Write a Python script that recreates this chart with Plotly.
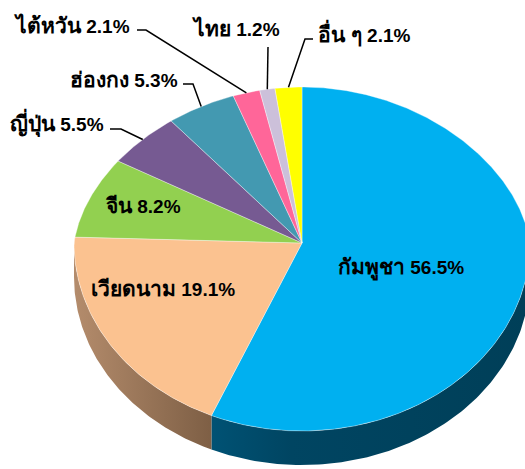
import numpy as np
import plotly.graph_objects as go

# ---------------- data ----------------
countries = ["กัมพูชา", "เวียดนาม", "จีน", "ญี่ปุ่น", "ฮ่องกง", "ไต้หวัน", "ไทย", "อื่น ๆ"]
shares = [56.5, 19.1, 8.2, 5.5, 5.3, 2.1, 1.2, 2.1]

# ---------------- style ----------------
top_colors = ["#00B0F0", "#FBC290", "#92D050", "#765A92", "#4399B1", "#FF6699", "#CCC0DA", "#FFFF00"]
wall_scales = {
    0: [[0, "#005274"], [0.25, "#004562"], [1, "#003F58"]],
    1: [[0, "#B48C6C"], [1, "#7E5F45"]],
}
# label placement: (x, y, xanchor)
label_pos = [
    (401, 268, "center"),
    (163, 288, "center"),
    (143, 205, "center"),
    (106, 123, "right"),
    (180, 79, "right"),
    (132, 25, "right"),
    (236, 28, "center"),
    (316, 33, "left"),
]
# leader lines: index -> (start point, elbow point)
leaders = {
    3: ((110, 129), (121, 129)),
    4: ((183, 84), (193, 84)),
    5: ((137, 30), (146, 30)),
    6: ((268, 47), (268, 47)),
    7: ((313, 39), (305, 39)),
}

W, H = 525, 469
CX, CY, RX, RY_TOP, RY_BOT, DEPTH, K = 302, 243, 228, 156, 188, 34, 0.1


def rim(theta_deg):
    t = np.radians(np.asarray(theta_deg, dtype=float))
    c, s = np.cos(t), np.sin(t)
    ry = np.where(c > 0, RY_TOP, RY_BOT)
    fx = 1 - K * np.clip(c, 0, None)
    return CX + RX * s * fx, CY - ry * c


vals = np.array(shares, dtype=float)
ends = np.cumsum(vals) / vals.sum() * 360.0
starts = np.concatenate([[0.0], ends[:-1]])

fig = go.Figure()

# side walls (visible front part: 90..270 deg)
for i, (a, b) in enumerate(zip(starts, ends)):
    lo, hi = max(a, 90.0), min(b, 270.0)
    if hi <= lo:
        continue
    th = np.linspace(lo, hi, 120)
    x, y = rim(th)
    px = np.concatenate([x, x[::-1], [x[0]]])
    py = np.concatenate([y, (y + DEPTH)[::-1], [y[0]]])
    fig.add_trace(go.Scatter(
        x=px, y=py, mode="lines", fill="toself",
        fillgradient=dict(type="horizontal", colorscale=wall_scales.get(i, [[0, top_colors[i]], [1, top_colors[i]]])),
        line=dict(width=0), hoverinfo="skip", showlegend=False))

# top surfaces
for i, (a, b) in enumerate(zip(starts, ends)):
    th = np.linspace(a, b, max(int((b - a) * 2), 8))
    x, y = rim(th)
    px = np.concatenate([[CX], x, [CX]])
    py = np.concatenate([[CY], y, [CY]])
    fig.add_trace(go.Scatter(
        x=px, y=py, mode="lines", fill="toself", fillcolor=top_colors[i],
        line=dict(width=0.6, color="rgba(255,255,255,0.6)"),
        name=countries[i], hoverinfo="skip", showlegend=False))

# leader lines
for i, (p0, p1) in leaders.items():
    mid = (starts[i] + ends[i]) / 2
    ex, ey = rim(mid)
    fig.add_trace(go.Scatter(
        x=[p0[0], p1[0], float(ex)], y=[p0[1], p1[1], float(ey)],
        mode="lines", line=dict(color="black", width=1.5),
        hoverinfo="skip", showlegend=False))

# labels
for i, (c, v) in enumerate(zip(countries, shares)):
    x, y, xa = label_pos[i]
    fig.add_annotation(
        x=x, y=y, xref="x", yref="y", xanchor=xa, yanchor="middle",
        text=f"<b><span style='font-size:21px'>{c}</span> {v}%</b>", showarrow=False,
        font=dict(family="Arial, Liberation Sans, sans-serif", size=19, color="black"))

fig.update_layout(
    width=W, height=H, margin=dict(l=0, r=0, t=0, b=0),
    paper_bgcolor="white", plot_bgcolor="white",
    xaxis=dict(range=[0, W], visible=False, fixedrange=True),
    yaxis=dict(range=[H, 0], visible=False, fixedrange=True),
    showlegend=False,
)

fig.write_html("out.html", config={"displayModeBar": False},
               post_script="document.body.style.margin='0px';document.body.style.overflow='hidden';")
